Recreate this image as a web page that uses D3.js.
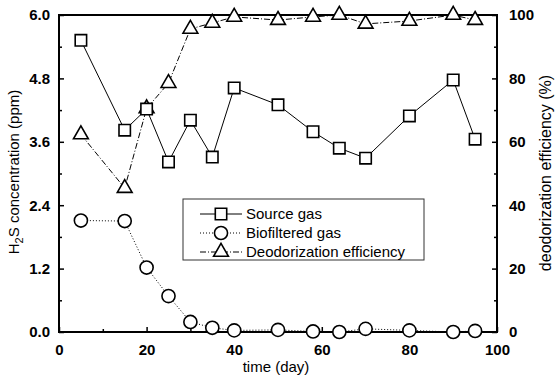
<!DOCTYPE html>
<html>
<head>
<meta charset="utf-8">
<script src="https://cdn.jsdelivr.net/npm/d3@7"></script>
<style>
  body { margin: 0; background: #fff; }
  svg { display: block; font-family: "Liberation Sans", Arial, sans-serif; }
</style>
</head>
<body>
<svg id="chart"></svg>
<script>
const width = 558, height = 383;

// time (day) for each sample
const days = [5, 15, 20, 25, 30, 35, 40, 50, 58, 64, 70, 80, 90, 95];
// H2S in source gas (ppm)
const sourceGas = [5.52, 3.82, 4.22, 3.22, 4.01, 3.31, 4.62, 4.30, 3.79, 3.48, 3.29, 4.09, 4.77, 3.65];
// H2S after biofilter (ppm)
const biofilteredGas = [2.11, 2.10, 1.22, 0.68, 0.19, 0.08, 0.03, 0.04, 0.01, 0.0, 0.06, 0.03, 0.0, 0.02];
// deodorization efficiency (%)
const efficiency = [62.3, 45.4, 70.5, 78.5, 95.6, 97.5, 99.4, 98.4, 99.4, 100, 97.2, 98.1, 100, 98.4];

const xTicks = [0, 20, 40, 60, 80, 100];
const leftTicks = [0, 1.2, 2.4, 3.6, 4.8, 6.0];
const rightTicks = [0, 20, 40, 60, 80, 100];

const legendItems = [
  { name: "Source gas", symbol: "square", dash: null },
  { name: "Biofiltered gas", symbol: "circle", dash: "1,2" },
  { name: "Deodorization efficiency", symbol: "triangle", dash: "6,2,1,2" }
];

const plotLeft = 59, plotRight = 497, plotTop = 15, plotBottom = 332;

const svg = d3.select("#chart").attr("width", width).attr("height", height);

const x = d3.scaleLinear().domain([0, 100]).range([plotLeft, plotRight]);
const yL = d3.scaleLinear().domain([0, 6]).range([plotBottom, plotTop]);
const yR = d3.scaleLinear().domain([0, 100]).range([plotBottom, plotTop]);

const fontSize = 15;

// frame
svg.append("rect")
  .attr("x", plotLeft).attr("y", plotTop)
  .attr("width", plotRight - plotLeft).attr("height", plotBottom - plotTop)
  .attr("fill", "none").attr("stroke", "#000").attr("stroke-width", 2);

// bottom axis (ticks inside)
svg.append("g").attr("transform", `translate(0,${plotBottom})`)
  .call(d3.axisBottom(x).tickValues(xTicks).tickSize(-5).tickPadding(12).tickFormat(d3.format("d")));
svg.append("g").attr("transform", `translate(0,${plotBottom})`)
  .call(d3.axisBottom(x).tickValues(d3.range(10, 100, 20)).tickSize(-3).tickFormat(""));

// left axis
svg.append("g").attr("transform", `translate(${plotLeft},0)`)
  .call(d3.axisLeft(yL).tickValues(leftTicks).tickSize(-5).tickPadding(9).tickFormat(d3.format(".1f")));
svg.append("g").attr("transform", `translate(${plotLeft},0)`)
  .call(d3.axisLeft(yL).tickValues(d3.range(0.6, 6, 1.2)).tickSize(-3).tickFormat(""));

// right axis
svg.append("g").attr("transform", `translate(${plotRight},0)`)
  .call(d3.axisRight(yR).tickValues(rightTicks).tickSize(-5).tickPadding(12).tickFormat(d3.format("d")));
svg.append("g").attr("transform", `translate(${plotRight},0)`)
  .call(d3.axisRight(yR).tickValues(d3.range(10, 100, 20)).tickSize(-3).tickFormat(""));

svg.selectAll(".domain").remove();
svg.selectAll(".tick line").attr("stroke", "#000").attr("stroke-width", 1.5);
svg.selectAll(".tick text")
  .attr("font-size", fontSize).attr("font-weight", "bold")
  .attr("font-family", "Liberation Sans, Arial, sans-serif").attr("fill", "#000");

// axis titles
svg.append("text")
  .attr("x", (plotLeft + plotRight) / 2 - 2).attr("y", 372)
  .attr("text-anchor", "middle").attr("font-size", fontSize)
  .text("time (day)");

const yTitle = svg.append("text")
  .attr("transform", `translate(19,172) rotate(-90)`)
  .attr("text-anchor", "middle").attr("font-size", fontSize);
yTitle.append("tspan").text("H");
yTitle.append("tspan").attr("font-size", 11).attr("dy", 4).text("2");
yTitle.append("tspan").attr("dy", -4).text("S concentration (ppm)");

svg.append("text")
  .attr("transform", `translate(551,173) rotate(-90)`)
  .attr("text-anchor", "middle").attr("font-size", 16)
  .text("deodorization efficiency (%)");

// series
const line = (yScale, vals) => d3.line()
  .x((d, i) => x(days[i]))
  .y(d => yScale(d))(vals);

const sym = {
  square: d3.symbol().type(d3.symbolSquare).size(130),
  circle: d3.symbol().type(d3.symbolCircle).size(135),
  triangle: d3.symbol().type(d3.symbolTriangle).size(95)
};

function drawSeries(vals, yScale, symbol, dash) {
  svg.append("path")
    .attr("d", line(yScale, vals))
    .attr("fill", "none").attr("stroke", "#000").attr("stroke-width", 1)
    .attr("stroke-dasharray", dash);
  svg.append("g").selectAll("path")
    .data(vals)
    .join("path")
    .attr("transform", (d, i) => `translate(${x(days[i])},${yScale(d)})`)
    .attr("d", sym[symbol]())
    .attr("fill", "#fff").attr("stroke", "#000").attr("stroke-width", 1.6);
}

drawSeries(efficiency, yR, "triangle", "6,2,1,2");
drawSeries(biofilteredGas, yL, "circle", "1,2");
drawSeries(sourceGas, yL, "square", null);

// legend
const lg = svg.append("g");
lg.append("rect")
  .attr("x", 183).attr("y", 199).attr("width", 241).attr("height", 61)
  .attr("fill", "#fff").attr("stroke", "#333").attr("stroke-width", 1);
legendItems.forEach((d, i) => {
  const cy = 214 + i * 19;
  lg.append("line")
    .attr("x1", 200).attr("x2", 242).attr("y1", cy).attr("y2", cy)
    .attr("stroke", "#000").attr("stroke-width", 1)
    .attr("stroke-dasharray", d.dash);
  lg.append("path")
    .attr("transform", `translate(221,${cy})`)
    .attr("d", sym[d.symbol]())
    .attr("fill", "#fff").attr("stroke", "#000").attr("stroke-width", 1.6);
  lg.append("text")
    .attr("x", 246).attr("y", cy).attr("dy", "0.35em")
    .attr("font-size", fontSize)
    .text(d.name);
});
</script>
</body>
</html>
